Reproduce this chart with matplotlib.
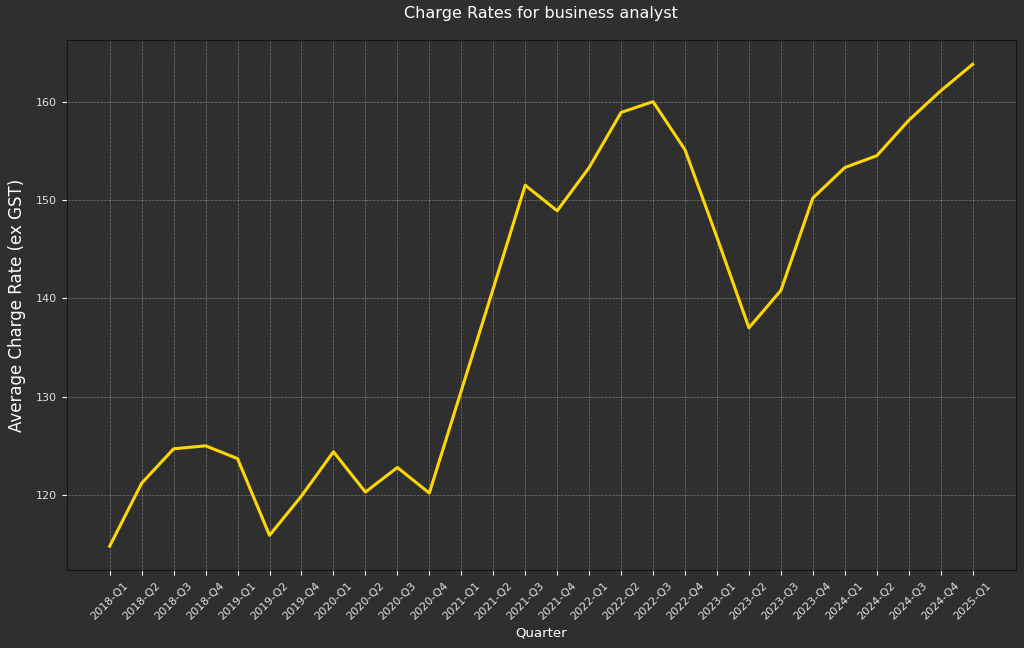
import matplotlib
matplotlib.use("Agg")
import matplotlib.pyplot as plt

# quarters as shown (2019-Q3 is missing in the source data)
quarters = [
    "2018-Q1", "2018-Q2", "2018-Q3", "2018-Q4",
    "2019-Q1", "2019-Q2", "2019-Q4",
    "2020-Q1", "2020-Q2", "2020-Q3", "2020-Q4",
    "2021-Q1", "2021-Q2", "2021-Q3", "2021-Q4",
    "2022-Q1", "2022-Q2", "2022-Q3", "2022-Q4",
    "2023-Q1", "2023-Q2", "2023-Q3", "2023-Q4",
    "2024-Q1", "2024-Q2", "2024-Q3", "2024-Q4",
    "2025-Q1",
]
avg_rate = [
    114.8, 121.2, 124.7, 125.0,
    123.7, 115.9, 119.9,
    124.4, 120.3, 122.8, 120.2,
    130.6, 141.0, 151.5, 148.9,
    153.3, 158.9, 160.0, 155.1,
    146.2, 137.0, 140.8, 150.2,
    153.3, 154.5, 158.1, 161.1,
    163.8,
]

bg = "#2f2f2f"
fig, ax = plt.subplots(figsize=(10.24, 6.48), dpi=100)
fig.patch.set_facecolor(bg)
ax.set_facecolor(bg)

ax.plot(quarters, avg_rate, color="#FFD700", linewidth=2.2)

ax.set_title("Charge Rates for business analyst", color="white", fontsize=11.5, pad=16)
ax.set_xlabel("Quarter", color="white", fontsize=9.5, labelpad=4)
ax.set_ylabel("Average Charge Rate (ex GST)", color="white", fontsize=12, labelpad=7)

ax.grid(True, linestyle="--", color="white", alpha=0.35, linewidth=0.5)
ax.tick_params(colors="white", labelsize=8)
plt.setp(ax.get_xticklabels(), rotation=45)
for t in ax.get_xticklabels() + ax.get_yticklabels():
    t.set_color("#e0e0e0")
for s in ax.spines.values():
    s.set_color("#151515")

fig.subplots_adjust(left=0.065, right=0.992, top=0.938, bottom=0.12)
fig.savefig("out.png", dpi=100, facecolor=bg)
